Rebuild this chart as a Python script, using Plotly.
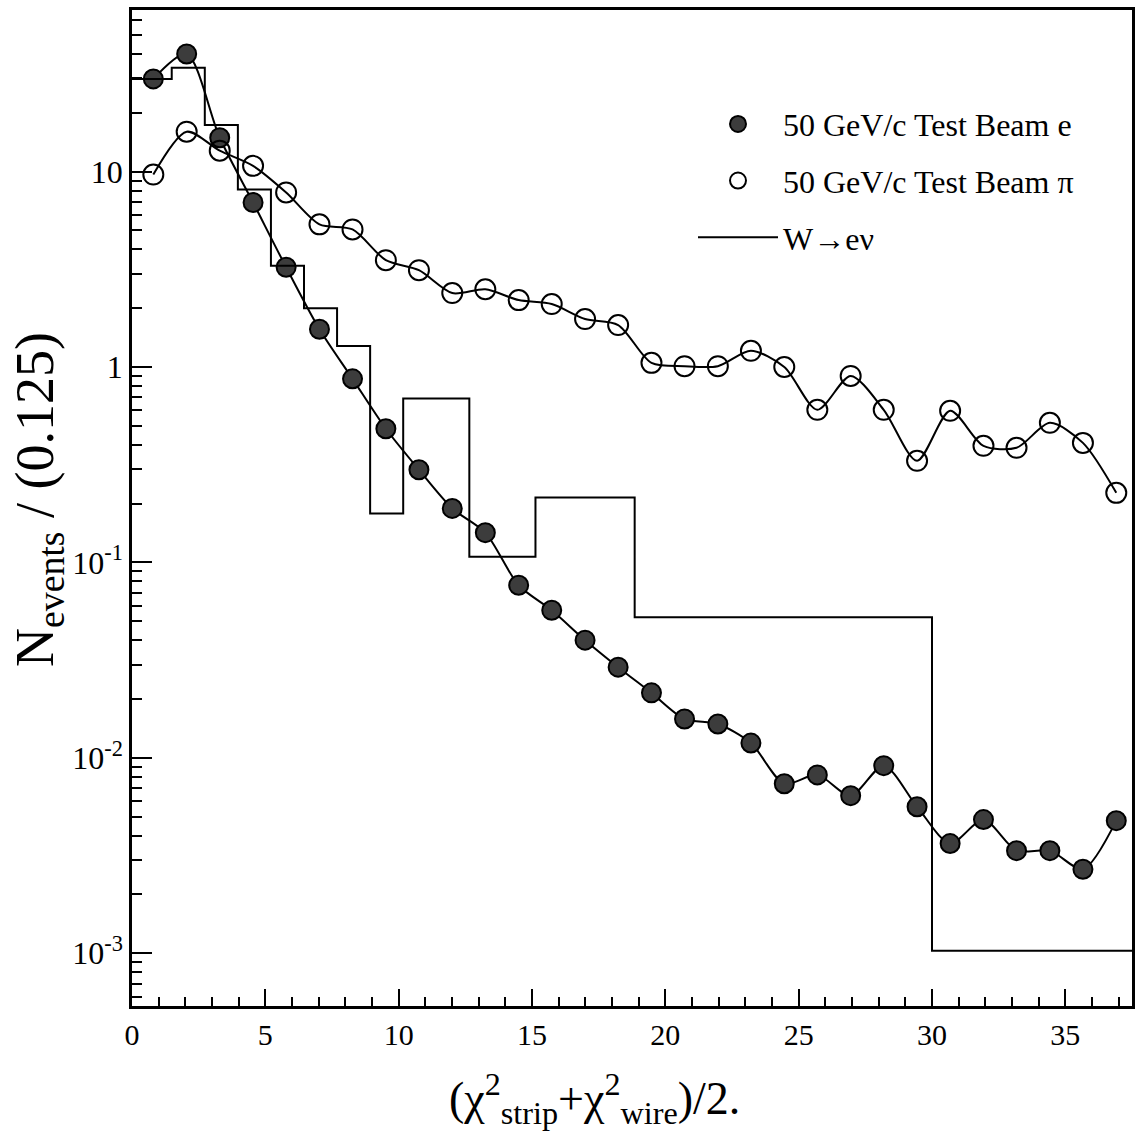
import plotly.graph_objects as go

# ---- data ----
x_pts = [0.80, 2.05, 3.29, 4.54, 5.78, 7.03, 8.27, 9.52, 10.76, 12.01,
         13.25, 14.50, 15.74, 16.99, 18.23, 19.48, 20.72, 21.97, 23.21, 24.46,
         25.70, 26.95, 28.19, 29.44, 30.68, 31.93, 33.17, 34.42, 35.66, 36.91]

electron = [29.8, 40.0, 14.9, 6.95, 3.24, 1.56, 0.87, 0.483, 0.298, 0.189,
            0.142, 0.0764, 0.0569, 0.040, 0.0291, 0.0215, 0.0158, 0.0149, 0.0119, 0.00737,
            0.00818, 0.0064, 0.00912, 0.00562, 0.00364, 0.00483, 0.00335, 0.00335, 0.00269, 0.00477]

pion = [9.66, 16.0, 12.8, 10.7, 7.82, 5.37, 5.06, 3.52, 3.13, 2.39,
        2.50, 2.20, 2.10, 1.76, 1.64, 1.05, 1.01, 1.01, 1.21, 1.00,
        0.604, 0.90, 0.604, 0.331, 0.597, 0.395, 0.386, 0.518, 0.409, 0.227]

hist_edges = [0, 1.49, 2.73, 3.97, 5.21, 6.45, 7.69, 8.93, 10.17, 12.65, 15.13, 18.85, 30.0, 37.5]
hist_vals = [29.8, 34.0, 17.3, 8.1, 3.3, 2.0, 1.28, 0.178, 0.69, 0.107, 0.215, 0.0524, 0.00103]

x_tickvals = [0, 5, 10, 15, 20, 25, 30, 35]
y_tickvals = [1e-3, 1e-2, 1e-1, 1, 10]
y_ticktext = ["10<sup>-3</sup>", "10<sup>-2</sup>", "10<sup>-1</sup>", "1", "10"]

names = ["50 GeV/c Test Beam e", "50 GeV/c Test Beam \u03c0", "W\u2192e\u03bd"]
x_title = "(\u03c7<sup>2</sup><sub>strip</sub>+\u03c7<sup>2</sup><sub>wire</sub>)/2."
y_title = "N<sub>events</sub> / (0.125)"

FONT = "Liberation Serif, Times New Roman, serif"

e_marker = dict(symbol="circle", size=19, color="#3c3c3c", line=dict(color="black", width=2))
p_marker = dict(symbol="circle-open", size=20, color="black", line=dict(color="black", width=2))
curve = dict(color="black", width=2, shape="spline", smoothing=0.8)

fig = go.Figure()

# curves (no legend entries)
fig.add_trace(go.Scatter(x=x_pts, y=electron, mode="lines", line=curve,
                         showlegend=False, hoverinfo="skip"))
fig.add_trace(go.Scatter(x=x_pts, y=pion, mode="lines", line=curve,
                         showlegend=False, hoverinfo="skip"))
# markers (legend entries show marker only)
fig.add_trace(go.Scatter(x=x_pts, y=electron, mode="markers", name=names[0],
                         legendgroup="e", marker=e_marker))
fig.add_trace(go.Scatter(x=x_pts, y=pion, mode="markers", name=names[1],
                         legendgroup="p", marker=p_marker))
# W -> e nu histogram
fig.add_trace(go.Scatter(
    x=hist_edges, y=hist_vals + [hist_vals[-1]], mode="lines", name=names[2], legendgroup="w",
    line=dict(color="black", width=2, shape="hv"),
))

fig.update_layout(
    width=1142, height=1139,
    margin=dict(l=132, r=8, t=7, b=133),
    paper_bgcolor="white", plot_bgcolor="white",
    font=dict(family=FONT, color="black", size=30),
    showlegend=True,
    legend=dict(x=0.561, y=0.913, xanchor="left", yanchor="top",
                font=dict(size=32, family=FONT), bgcolor="rgba(0,0,0,0)",
                traceorder="grouped", tracegroupgap=12, itemwidth=80),
    xaxis=dict(
        range=[0, 37.5], tickmode="array", tickvals=x_tickvals,
        ticks="inside", ticklen=17, tickwidth=2, tickcolor="black",
        minor=dict(dtick=1, tick0=0, ticks="inside", ticklen=9, tickwidth=2, tickcolor="black", showgrid=False),
        showline=True, linewidth=2.5, linecolor="black", mirror=True,
        showgrid=False, zeroline=False,
        tickfont=dict(size=30, family=FONT),
    ),
    yaxis=dict(
        type="log", range=[-3.27, 1.827], tickmode="array",
        tickvals=y_tickvals, ticktext=y_ticktext,
        ticks="inside", ticklen=20, tickwidth=2, tickcolor="black",
        minor=dict(dtick="D1", ticks="inside", ticklen=10, tickwidth=2, tickcolor="black", showgrid=False),
        showline=True, linewidth=2.5, linecolor="black", mirror=True,
        showgrid=False, zeroline=False,
        tickfont=dict(size=32, family=FONT),
    ),
    annotations=[
        dict(text=x_title, xref="paper", yref="paper", x=0.462, y=-0.093,
             xanchor="center", yanchor="middle", showarrow=False,
             font=dict(size=46, family=FONT, color="black")),
        dict(text=y_title, xref="paper", yref="paper", x=-0.094, y=0.508,
             xanchor="center", yanchor="middle", showarrow=False, textangle=-90,
             font=dict(size=54, family=FONT, color="black")),
    ],
)

fig.write_html("out.html")
